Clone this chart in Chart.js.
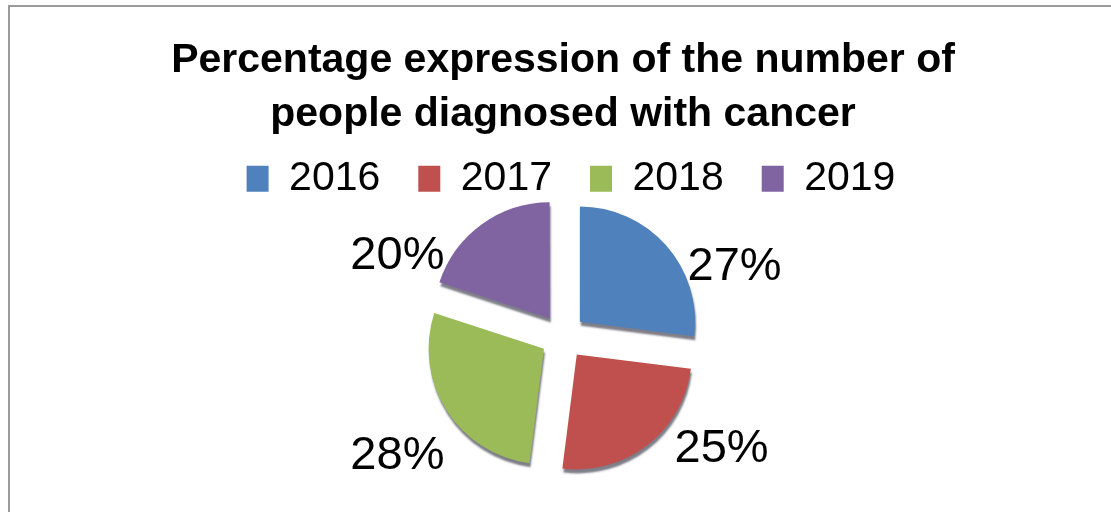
<!DOCTYPE html>
<html>
<head>
<meta charset="utf-8">
<script src="https://cdn.jsdelivr.net/npm/chart.js@4.4.1/dist/chart.umd.min.js"></script>
<style>
  html, body { margin: 0; padding: 0; background: #fff; overflow: hidden; }
  #frame {
    position: absolute; left: 8px; top: 5px;
    width: 1106px; height: 520px;
    border: 2px solid #9a9a9a;
    background: #fff;
  }
  #chart { display: block; }
</style>
</head>
<body>
<div id="frame">
  <canvas id="chart" width="1106" height="505"></canvas>
</div>
<script>
// chart data
const years = ['2016', '2017', '2018', '2019'];
const percentages = [27, 25, 28, 20];
const sliceColors = ['#4F81BD', '#C0504D', '#9BBB59', '#8064A2'];
const titleLines = ['Percentage expression of the number of', 'people diagnosed with cancer'];

const FONT = '"Liberation Sans", Arial, sans-serif';

// darker rim under the slices, like the 3D look in the original
const rimShadow = {
    id: 'rimShadow',
    beforeDatasetsDraw(chart) {
        const ctx = chart.ctx;
        ctx.save();
        ctx.shadowColor = 'rgba(20, 20, 40, 0.55)';
        ctx.shadowOffsetX = 1;
        ctx.shadowOffsetY = 4;
        ctx.shadowBlur = 2;
    },
    afterDatasetsDraw(chart) {
        chart.ctx.restore();
    }
};

// legend sits a bit right of centre in the original
const legendNudge = {
    id: 'legendNudge',
    afterLayout(chart) {
        chart.legend.left += 8;
        chart.legend.right += 8;
    }
};

// percent labels outside each slice
const outsideLabels = {
    id: 'outsideLabels',
    afterDraw(chart) {
        const ctx = chart.ctx;
        const meta = chart.getDatasetMeta(0);
        ctx.save();
        ctx.font = '47px ' + FONT;
        ctx.fillStyle = '#000';
        ctx.textAlign = 'center';
        ctx.textBaseline = 'middle';
        meta.data.forEach((arc, i) => {
            const p = arc.getProps(['x', 'y', 'startAngle', 'endAngle', 'outerRadius'], true);
            const mid = (p.startAngle + p.endAngle) / 2;
            const c = Math.cos(mid), s = Math.sin(mid);
            const r = p.outerRadius;
            let lx = p.x + Math.sign(c) * r * 1.44;
            let ly;
            if (s < 0) {
                ly = p.y - 0.66 * r + 8 * c;
                if (c > 0) lx += 6;
            } else {
                ly = p.y + r - 5 * c;
                if (c > 0) lx -= 7;
            }
            ctx.fillText(percentages[i] + '%', lx, ly);
        });
        ctx.restore();
    }
};

const ctx = document.getElementById('chart').getContext('2d');
const chart = new Chart(ctx, {
    type: 'pie',
    data: {
        labels: years,
        datasets: [{
            data: percentages,
            backgroundColor: sliceColors,
            borderWidth: 0,
            offset: 90,
            radius: 115,
            clip: false
        }]
    },
    options: {
        responsive: false,
        animation: false,
        layout: { padding: { top: 0, bottom: 48, left: 0, right: 0 } },
        plugins: {
            title: {
                display: true,
                text: titleLines,
                color: '#000',
                font: { family: FONT, size: 41, weight: 'bold', lineHeight: 1.32 },
                padding: { top: 27, bottom: -22 }
            },
            legend: {
                position: 'top',
                labels: {
                    color: '#000',
                    boxWidth: 22,
                    boxHeight: 26,
                    padding: 38,
                    font: { family: FONT, size: 41 }
                }
            },
            tooltip: { enabled: false }
        }
    },
    plugins: [rimShadow, legendNudge, outsideLabels]
});
</script>
</body>
</html>
